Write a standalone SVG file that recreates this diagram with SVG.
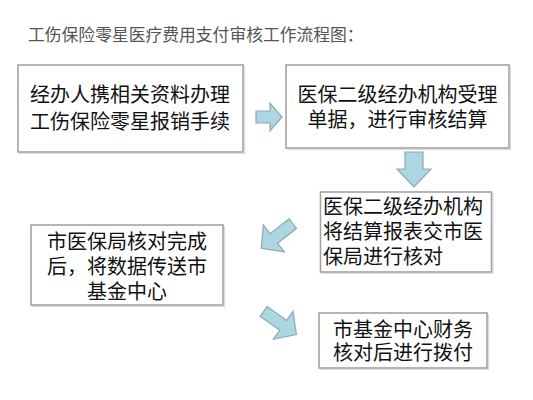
<svg xmlns="http://www.w3.org/2000/svg" width="533" height="400" viewBox="0 0 533 400">
<defs>
<style>
.box{fill:#ffffff;stroke:#a3a3a3;stroke-width:1.6}
.shadow{fill:none;stroke:#dcdcdc;stroke-width:1.2}
.t{font-family:"Noto Sans CJK SC","Noto Sans",sans-serif;font-size:20px;fill:#111111}
.c{text-anchor:middle}
.title{font-family:"Noto Sans CJK SC","Noto Sans",sans-serif;font-size:16.8px;fill:#555555}
.arr{fill:#abd6e2;stroke:#8aaab6;stroke-width:1.2;stroke-linejoin:miter}
</style>
<path id="ar" d="M-20,-6 L4,-6 L4,-17 L20,0 L4,17 L4,6 L-20,6 Z"/>
</defs>
<rect width="533" height="400" fill="#ffffff"/>
<text class="title" x="28" y="41">工伤保险零星医疗费用支付审核工作流程图：</text>

<g id="node1">
<rect class="shadow" x="19.5" y="66.5" width="225" height="87"/>
<rect class="box" x="18" y="65" width="225" height="87"/>
<text class="t c" x="130" y="102">经办人携相关资料办理</text>
<text class="t c" x="130" y="129">工伤保险零星报销手续</text>
</g>

<g id="node2">
<rect class="shadow" x="287.5" y="66.5" width="223" height="83"/>
<rect class="box" x="286" y="65" width="223" height="83"/>
<text class="t c" x="397.5" y="102">医保二级经办机构受理</text>
<text class="t c" x="397.5" y="127">单据，进行审核结算</text>
</g>

<g id="node3">
<rect class="shadow" x="322" y="193.5" width="171" height="80"/>
<rect class="box" x="320.5" y="192" width="171" height="80"/>
<text class="t" x="323" y="214">医保二级经办机构</text>
<text class="t" x="323" y="239">将结算报表交市医</text>
<text class="t" x="323" y="264">保局进行核对</text>
</g>

<g id="node4">
<rect class="shadow" x="32.5" y="226.5" width="192" height="80"/>
<rect class="box" x="31" y="225" width="192" height="80"/>
<text class="t c" x="127" y="249">市医保局核对完成</text>
<text class="t c" x="127" y="274">后，将数据传送市</text>
<text class="t c" x="127" y="299">基金中心</text>
</g>

<g id="node5">
<rect class="shadow" x="320.5" y="314.5" width="168" height="55"/>
<rect class="box" x="319" y="313" width="168" height="55"/>
<text class="t c" x="403" y="337">市基金中心财务</text>
<text class="t c" x="403" y="360">核对后进行拨付</text>
</g>

<g id="connectors">
<path class="arr" d="M256,111 L270,111 L270,103 L282,117 L270,131 L270,123 L256,123 Z"/>
<path class="arr" d="M405,152 L423,152 L423,169 L431,169 L414,187 L397,169 L405,169 Z"/>
<use href="#ar" class="arr" transform="translate(277,236) rotate(142)"/>
<use href="#ar" class="arr" transform="translate(280,323) rotate(35)"/>
</g>
</svg>
